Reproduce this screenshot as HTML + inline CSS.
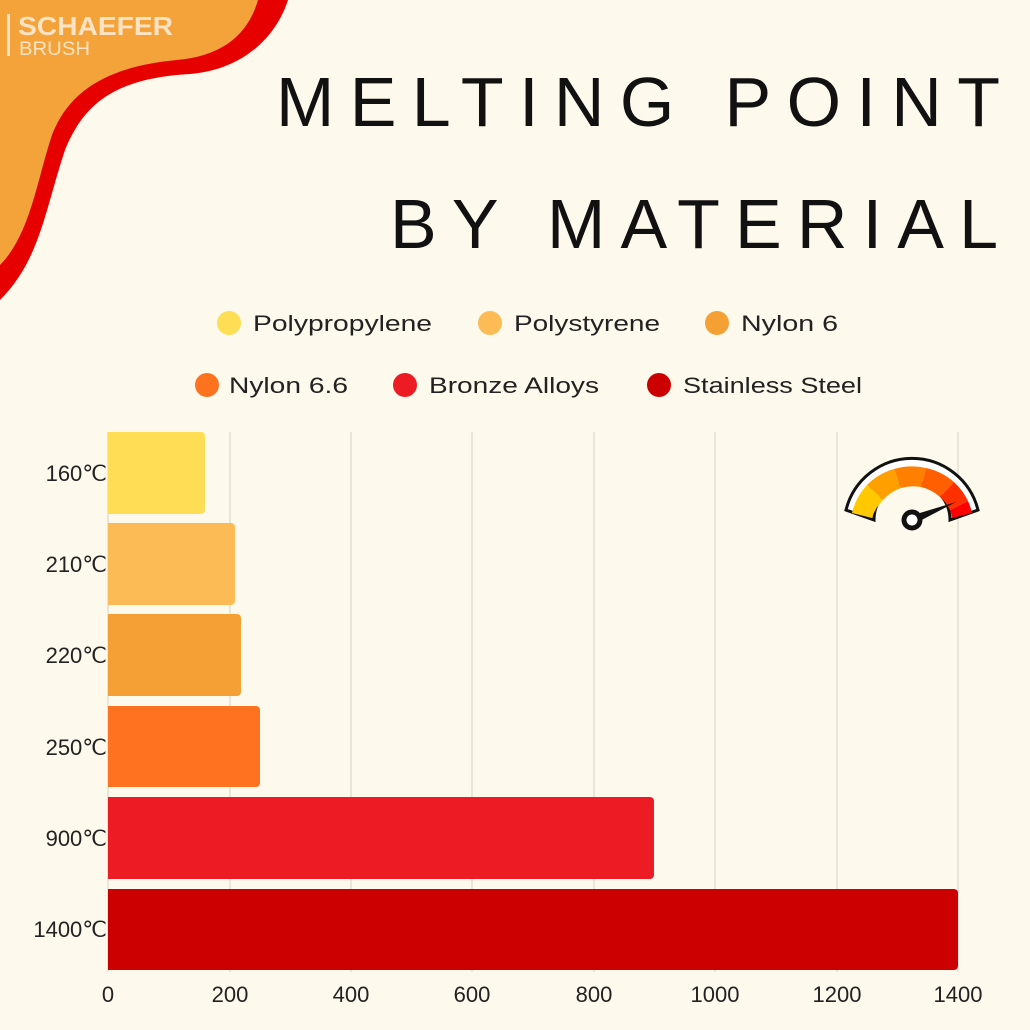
<!DOCTYPE html>
<html><head><meta charset="utf-8"><style>
html,body{margin:0;padding:0;background:#FDF9EC;}
svg{display:block;font-family:"Liberation Sans",sans-serif;}
</style></head><body>
<svg width="1030" height="1030" viewBox="0 0 1030 1030" xmlns="http://www.w3.org/2000/svg">
<rect width="1030" height="1030" fill="#FDF9EC"/>
<!-- corner blob -->
<path d="M0 0 L288 0 C275 40 240 70 190 74 C120 78 85 100 65 150 C45 210 40 260 0 300 Z" fill="#E60000"/>
<path d="M0 0 L258 0 C248 35 222 56 177 60 C112 66 70 88 52 135 C37 180 30 235 0 265 Z" fill="#F4A23A"/>
<rect x="7" y="14" width="3" height="42" fill="#FBE3C4"/>
<text x="18" y="35" font-size="26" font-weight="bold" fill="#FBE3C4" textLength="155" lengthAdjust="spacingAndGlyphs">SCHAEFER</text>
<text x="19" y="55" font-size="19" fill="#FBE3C4" textLength="71" lengthAdjust="spacingAndGlyphs">BRUSH</text>
<!-- title -->
<text x="276" y="126" font-size="70" fill="#111" textLength="724" lengthAdjust="spacing">MELTING POINT</text>
<text x="390" y="248" font-size="70" fill="#111" textLength="608" lengthAdjust="spacing">BY MATERIAL</text>
<!-- legend -->
<g font-size="22" fill="#222">
<circle cx="229" cy="323" r="12" fill="#FFDD55"/><text x="253" y="331" textLength="179" lengthAdjust="spacingAndGlyphs">Polypropylene</text>
<circle cx="490" cy="323" r="12" fill="#FDBB55"/><text x="514" y="331" textLength="146" lengthAdjust="spacingAndGlyphs">Polystyrene</text>
<circle cx="717" cy="323" r="12" fill="#F5A035"/><text x="741" y="331" textLength="97" lengthAdjust="spacingAndGlyphs">Nylon 6</text>
<circle cx="207" cy="385" r="12" fill="#FF7220"/><text x="229" y="393" textLength="119" lengthAdjust="spacingAndGlyphs">Nylon 6.6</text>
<circle cx="405" cy="385" r="12" fill="#ED1C24"/><text x="429" y="393" textLength="170" lengthAdjust="spacingAndGlyphs">Bronze Alloys</text>
<circle cx="659" cy="385" r="12" fill="#CC0000"/><text x="683" y="393" textLength="179" lengthAdjust="spacingAndGlyphs">Stainless Steel</text>
</g>
<!-- grid -->
<g stroke="#E2DFD4" stroke-width="1.5">
<line x1="230" y1="432" x2="230" y2="972"/><line x1="351" y1="432" x2="351" y2="972"/>
<line x1="472" y1="432" x2="472" y2="972"/><line x1="594" y1="432" x2="594" y2="972"/>
<line x1="715" y1="432" x2="715" y2="972"/><line x1="837" y1="432" x2="837" y2="972"/>
<line x1="958" y1="432" x2="958" y2="972"/>
</g>
<line x1="108" y1="432" x2="108" y2="972" stroke="#E2DFD4" stroke-width="1.5"/>
<!-- bars -->
<path d="M108 432 H201 a4 4 0 0 1 4 4 V510 a4 4 0 0 1 -4 4 H108Z" fill="#FFDD55"/>
<path d="M108 523 H231 a4 4 0 0 1 4 4 V601 a4 4 0 0 1 -4 4 H108Z" fill="#FDBB55"/>
<path d="M108 614 H237 a4 4 0 0 1 4 4 V692 a4 4 0 0 1 -4 4 H108Z" fill="#F5A035"/>
<path d="M108 706 H256 a4 4 0 0 1 4 4 V783 a4 4 0 0 1 -4 4 H108Z" fill="#FF7220"/>
<path d="M108 797 H650 a4 4 0 0 1 4 4 V875 a4 4 0 0 1 -4 4 H108Z" fill="#ED1C24"/>
<path d="M108 889 H954 a4 4 0 0 1 4 4 V966 a4 4 0 0 1 -4 4 H108Z" fill="#CC0000"/>
<!-- y labels -->
<g font-size="22" fill="#222" text-anchor="end">
<text x="107" y="481">160℃</text><text x="107" y="572">210℃</text>
<text x="107" y="663">220℃</text><text x="107" y="755">250℃</text>
<text x="107" y="846">900℃</text><text x="107" y="937">1400℃</text>
</g>
<!-- x labels -->
<g font-size="22" fill="#222" text-anchor="middle">
<text x="108" y="1002">0</text><text x="230" y="1002">200</text><text x="351" y="1002">400</text>
<text x="472" y="1002">600</text><text x="594" y="1002">800</text><text x="715" y="1002">1000</text>
<text x="837" y="1002">1200</text><text x="958" y="1002">1400</text>
</g>
<!-- gauge -->
<g transform="translate(912,528)">
<path d="M-66 -18 A68 68 0 0 1 66 -18 L38 -8 A38 38 0 0 0 -38 -8 Z" fill="#fff" stroke="#111" stroke-width="3"/>
<path d="M-60 -15 A62 62 0 0 1 -45 -43 L-29 -28 A42 42 0 0 0 -40 -10Z" fill="#FFC800"/>
<path d="M-45 -43 A62 62 0 0 1 -18 -59 L-11 -40 A42 42 0 0 0 -29 -28Z" fill="#FF9F00"/>
<path d="M-18 -59 A62 62 0 0 1 14 -60 L9 -41 A42 42 0 0 0 -11 -40Z" fill="#FF7F00"/>
<path d="M14 -60 A62 62 0 0 1 42 -46 L28 -31 A42 42 0 0 0 9 -41Z" fill="#FF5F00"/>
<path d="M42 -46 A62 62 0 0 1 56 -27 L38 -18 A42 42 0 0 0 28 -31Z" fill="#FF3000"/>
<path d="M56 -27 A62 62 0 0 1 60 -15 L40 -10 A42 42 0 0 0 38 -18Z" fill="#FF0000"/>
<path d="M-2 -12 L44 -26 L2 -4 Z" fill="#111"/>
<circle cx="0" cy="-8" r="8" fill="#fff" stroke="#111" stroke-width="5"/>
</g>
</svg>
</body></html>
